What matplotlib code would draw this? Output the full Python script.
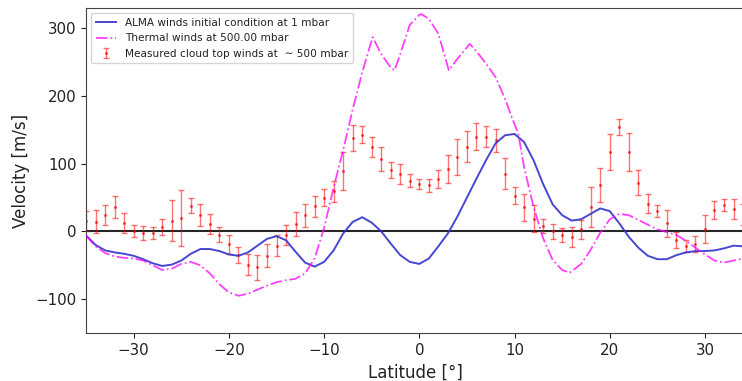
import matplotlib
matplotlib.use("Agg")
import matplotlib.pyplot as plt

# Measured cloud-top winds (~500 mbar)
obs_lat = list(range(-35, 35))
obs_vel = [15, 14, 24, 36, 12, 1, -2, -2, 7, 16, 20, 38, 24, 11,
           -5, -19, -35, -49, -53, -36, -21, -5, 11, 24, 37, 50, 59,
           89, 138, 143, 125, 107, 91, 85, 75, 70, 68, 77, 92, 110,
           125, 140, 140, 135, 85, 53, 36, 19, 8, 0, -5, -8, 3, 36,
           68, 117, 154, 117, 72, 41, 30, 12, -13, -21, -19, 4, 32,
           39, 33, 25]
obs_err = [15, 17, 15, 16, 15, 9, 10, 9, 12, 30, 41, 11, 16, 15,
           11, 14, 12, 16, 18, 17, 16, 15, 18, 17, 16, 13, 16,
           28, 19, 12, 15, 18, 12, 15, 10, 8, 10, 13, 21, 26,
           23, 20, 15, 17, 23, 13, 20, 20, 11, 11, 10, 15, 14, 29,
           25, 27, 12, 28, 18, 14, 9, 20, 12, 9, 12, 21, 13,
           9, 15, 15]

# ALMA winds initial condition at 1 mbar
alma_lat = list(range(-35, 35))
alma_vel = [-6, -20, -28, -31, -33, -36, -41, -47, -51, -49, -43, -33,
            -26, -26, -29, -34, -36, -31, -21, -11, -7, -13, -30, -46,
            -52, -45, -28, -3, 14, 21, 13, 0, -18, -35, -45, -48, -40,
            -22, -3, 22, 50, 78, 105, 130, 142, 144, 132, 105, 70, 40,
            24, 16, 18, 26, 34, 30, 12, -8, -24, -36, -41, -41, -35,
            -31, -29, -29, -28, -25, -21, -22]

# Thermal winds at 500 mbar
th_lat = [-35, -34, -33, -32, -31, -30, -29, -28, -27, -26, -25, -24,
          -23, -22, -21, -20, -19, -18, -17, -16, -15, -14, -13, -12,
          -11, -10, -9, -8, -7, -6, -4.9, -4, -3, -2.6, -2, -1, 0, 0.2,
          1, 2, 3.1, 4, 5.3, 6, 7, 8, 9, 9.7, 10.4, 11, 12, 13, 14, 15,
          15.8, 17, 18, 19, 20, 21, 22, 23, 24, 25, 26, 27, 28, 29, 30,
          31, 32, 33, 34]
th_vel = [-6, -22, -32, -37, -39, -40, -43, -50, -57, -55, -48, -45,
          -50, -62, -78, -90, -95, -92, -86, -80, -75, -72, -70, -62,
          -40, 5, 65, 120, 180, 235, 287, 262, 242, 238, 262, 305, 320,
          321, 314, 292, 238, 255, 277, 266, 248, 228, 196, 169, 144,
          95, 36, -10, -42, -57, -61, -48, -27, -2, 18, 26, 24, 17, 10,
          3, -1, -5, -14, -24, -34, -43, -46, -43, -40]

xlim = (-35, 34.2)
ylim = (-150, 330)

fig = plt.figure(figsize=(7.42, 3.81), dpi=100)
ax = fig.add_axes([0.116, 0.126, 0.888, 0.853])

ax.axhline(0, color="black", lw=1.5, alpha=0.85, zorder=1)
ax.plot(alma_lat, alma_vel, color="#3333cc", lw=1.4, alpha=0.9,
        label="ALMA winds initial condition at 1 mbar", zorder=3)
ax.plot(th_lat, th_vel, color="magenta", lw=1.3, ls="-.", alpha=0.75,
        label="Thermal winds at 500.00 mbar", zorder=3)
ax.errorbar(obs_lat, obs_vel, yerr=obs_err, fmt=".", color="red",
            markersize=2.5, elinewidth=1, capsize=2.2, capthick=1,
            alpha=0.55,
            label="Measured cloud top winds at  \u223c 500 mbar", zorder=2)

ax.set_xlim(*xlim)
ax.set_ylim(*ylim)
ax.set_xticks([-30, -20, -10, 0, 10, 20, 30])
ax.set_yticks([-100, 0, 100, 200, 300])
ax.tick_params(labelsize=10.8, colors="#222222")
ax.set_xlabel("Latitude [°]", fontsize=12, color="#222222")
ax.set_ylabel("Velocity [m/s]", fontsize=12, color="#222222")
for s in ax.spines.values():
    s.set_color("#444444")

leg = ax.legend(loc="upper left", fontsize=7.6, frameon=True,
                handlelength=1.85, handletextpad=0.9, borderpad=0.45,
                labelspacing=0.5, borderaxespad=0.5)
for t in leg.get_texts():
    t.set_color("#222222")

fig.savefig("out.png", dpi=100)
